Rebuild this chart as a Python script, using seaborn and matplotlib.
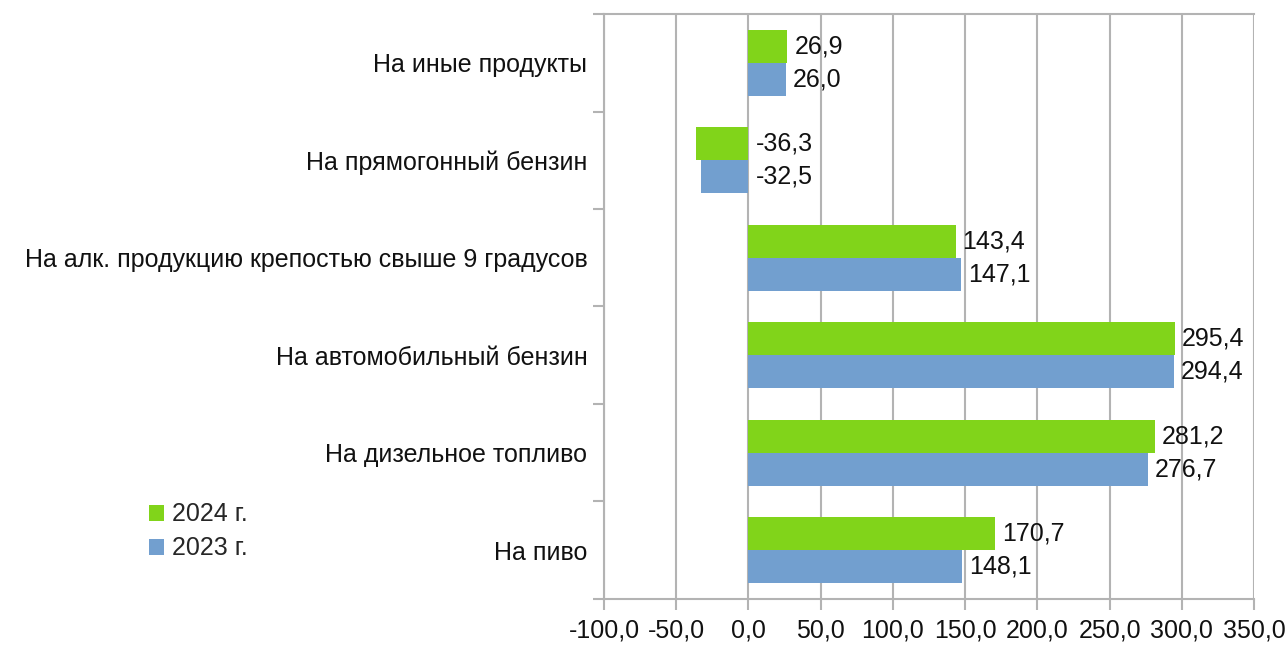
import pandas as pd
import matplotlib
matplotlib.use('Agg')
import matplotlib.pyplot as plt
from matplotlib.patches import Patch
import seaborn as sns

# data
categories = [
    'На иные продукты',
    'На прямогонный бензин',
    'На алк. продукцию крепостью свыше 9 градусов',
    'На автомобильный бензин',
    'На дизельное топливо',
    'На пиво',
]
values_2024 = [26.9, -36.3, 143.4, 295.4, 281.2, 170.7]
values_2023 = [26.0, -32.5, 147.1, 294.4, 276.7, 148.1]
series_names = ['2024 г.', '2023 г.']
colors = ['#81d41a', '#729fcf']
x_ticks = [-100, -50, 0, 50, 100, 150, 200, 250, 300, 350]

df = pd.DataFrame({
    'Категория': categories * 2,
    'Значение': values_2024 + values_2023,
    'Год': [series_names[0]] * len(categories) + [series_names[1]] * len(categories),
})

sns.set_style('white')
plt.rcParams['font.family'] = ['Liberation Sans', 'DejaVu Sans']
FS = 18

fig = plt.figure(figsize=(12.87, 6.46), dpi=100)
ax = fig.add_axes([0.4693, 0.0728, 0.5051, 0.9055])

sns.barplot(data=df, y='Категория', x='Значение', hue='Год', hue_order=series_names,
            palette=colors, orient='h', width=0.68, saturation=1, ax=ax,
            legend=False, order=categories, linewidth=0, edgecolor='none')

# value labels, negatives are put right of zero like in the original
for patch in ax.patches:
    w = patch.get_width()
    if patch.get_height() == 0:
        continue
    x0 = patch.get_x()
    val = w if x0 == 0 else x0
    right = max(x0 + w, 0)
    txt = f'{val:.1f}'.replace('.', ',')
    ax.annotate(txt, (right, patch.get_y() + patch.get_height() / 2),
                xytext=(5, 0), textcoords='offset points',
                va='center', ha='left', fontsize=FS, color='#111111')

ax.set_xlim(-100, 350)
ax.set_ylim(len(categories) - 0.5, -0.5)
ax.set_xticks(x_ticks)
ax.set_xticklabels([f'{t:.1f}'.replace('.', ',') for t in x_ticks], fontsize=FS)
ax.set_yticks(range(len(categories)))
ax.set_yticklabels(categories, fontsize=FS)
ax.set_yticks([i - 0.5 for i in range(len(categories) + 1)], minor=True)
ax.tick_params(axis='y', which='major', length=0, pad=12, colors='#111111')
ax.tick_params(axis='y', which='minor', length=8, color='#b3b3b3', width=1.5, direction='out', left=True)
ax.tick_params(axis='x', length=8, color='#b3b3b3', width=1.5, direction='out', bottom=True,
               labelcolor='#111111', pad=6)
ax.set_xlabel('')
ax.set_ylabel('')

ax.grid(True, axis='x', color='#b3b3b3', linewidth=1.5)
ax.set_axisbelow(True)
for side in ['left', 'bottom', 'top', 'right']:
    ax.spines[side].set_color('#b3b3b3')
    ax.spines[side].set_linewidth(1.5)
ax.spines['right'].set_visible(False)

handles = [Patch(facecolor=c, edgecolor='none', label=n) for c, n in zip(colors, series_names)]
fig.legend(handles=handles, loc='upper left', bbox_to_anchor=(0.098, 0.257), frameon=False,
           fontsize=FS, handlelength=0.6, handleheight=0.6, handletextpad=0.35, labelspacing=0.4)

fig.savefig('out.png', dpi=100)
